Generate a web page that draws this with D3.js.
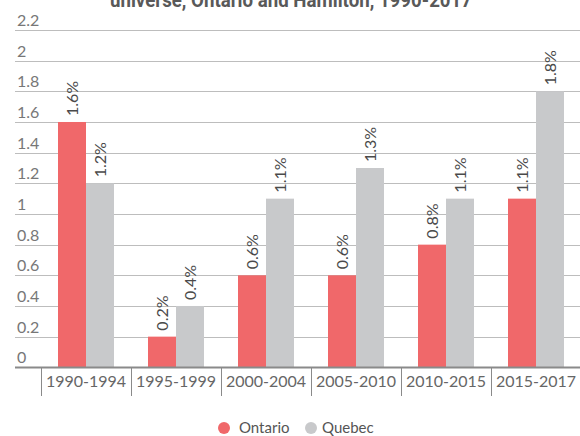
<!DOCTYPE html>
<html><head><meta charset="utf-8">
<script src="https://cdn.jsdelivr.net/npm/d3@7"></script>
<style>body{margin:0;background:#fff}svg{display:block}</style>
</head><body>
<svg id="c" width="580" height="436"></svg>
<script>
const categories = ["1990-1994","1995-1999","2000-2004","2005-2010","2010-2015","2015-2017"];
const seriesNames = ["Ontario","Quebec"];
const ontario = [1.6,0.2,0.6,0.6,0.8,1.1];
const quebec = [1.2,0.4,1.1,1.3,1.1,1.8];
const yTicks = [0,0.2,0.4,0.6,0.8,1,1.2,1.4,1.6,1.8,2,2.2];
const colors = ["#f0686a","#c8c9cb"];
const title = "universe, Ontario and Hamilton, 1990-2017";

const svg = d3.select("#c");
const font = "Lato, 'Open Sans', sans-serif";
const y = d3.scaleLinear().domain([0,2.2]).range([367.3,30]);
const x = d3.scaleBand().domain(categories).range([41,581]).paddingInner(0).paddingOuter(0);
const x1 = d3.scaleBand().domain(seriesNames).range([17,73]);

svg.append("text").attr("x",291).attr("y",7).attr("text-anchor","middle")
  .attr("font-family","'Roboto', 'DejaVu Sans Condensed', sans-serif")
  .attr("font-weight","bold").attr("font-size",20).attr("fill","#595959")
  .attr("textLength",362).attr("lengthAdjust","spacingAndGlyphs").text(title);

// grid
const g = svg.append("g");
g.selectAll("line.grid").data(yTicks.filter(d=>d>0)).join("line")
  .attr("x1",15).attr("x2",580).attr("y1",d=>Math.round(y(d))+0.5).attr("y2",d=>Math.round(y(d))+0.5)
  .attr("stroke","#bdbdbd").attr("stroke-width",1);
g.selectAll("text.yl").data(yTicks).join("text")
  .attr("x",17).attr("y",d=>y(d)-4).attr("font-family",font).attr("font-size",16)
  .attr("fill","#777").text(d=>d3.format("")(d));

// bars
const data = categories.map((c,i)=>({c, vals:[ontario[i],quebec[i]]}));
const grp = svg.append("g").selectAll("g").data(data).join("g")
  .attr("transform",d=>`translate(${x(d.c)},0)`);
grp.selectAll("rect").data(d=>d.vals.map((v,j)=>({v,s:seriesNames[j],j}))).join("rect")
  .attr("x",d=>x1(d.s)).attr("width",x1.bandwidth()).attr("y",d=>y(d.v)).attr("height",d=>y(0)-y(d.v))
  .attr("fill",d=>colors[d.j]);
grp.selectAll("text").data(d=>d.vals.map((v,j)=>({v,s:seriesNames[j],j}))).join("text")
  .attr("transform",d=>`translate(${x1(d.s)+x1.bandwidth()/2+5.5},${y(d.v)-6}) rotate(-90)`)
  .attr("font-family",font).attr("font-size",16).attr("fill","#4a4a4a").text(d=>d.v.toFixed(1)+"%");

// x axis
svg.append("line").attr("x1",15).attr("x2",580).attr("y1",367.5).attr("y2",367.5).attr("stroke","#8a8a8a").attr("stroke-width",2);
svg.selectAll("line.tk").data(categories).join("line")
  .attr("x1",d=>Math.round(x(d))+0.5).attr("x2",d=>Math.round(x(d))+0.5).attr("y1",367).attr("y2",396)
  .attr("stroke","#8a8a8a").attr("stroke-width",1);
svg.selectAll("text.xl").data(categories).join("text")
  .attr("x",d=>x(d)+x.bandwidth()/2).attr("y",387).attr("text-anchor","middle")
  .attr("font-family",font).attr("font-size",16).attr("fill","#666").text(d=>d);

// legend
const leg = [{n:"Ontario",cx:224,tx:239},{n:"Quebec",cx:311,tx:322}];
leg.forEach((l,i)=>{
  svg.append("circle").attr("cx",l.cx).attr("cy",428).attr("r",6).attr("fill",colors[i]);
  svg.append("text").attr("x",l.tx).attr("y",433).attr("font-family",font).attr("font-size",15).attr("fill","#555").text(l.n);
});
</script>
</body></html>
